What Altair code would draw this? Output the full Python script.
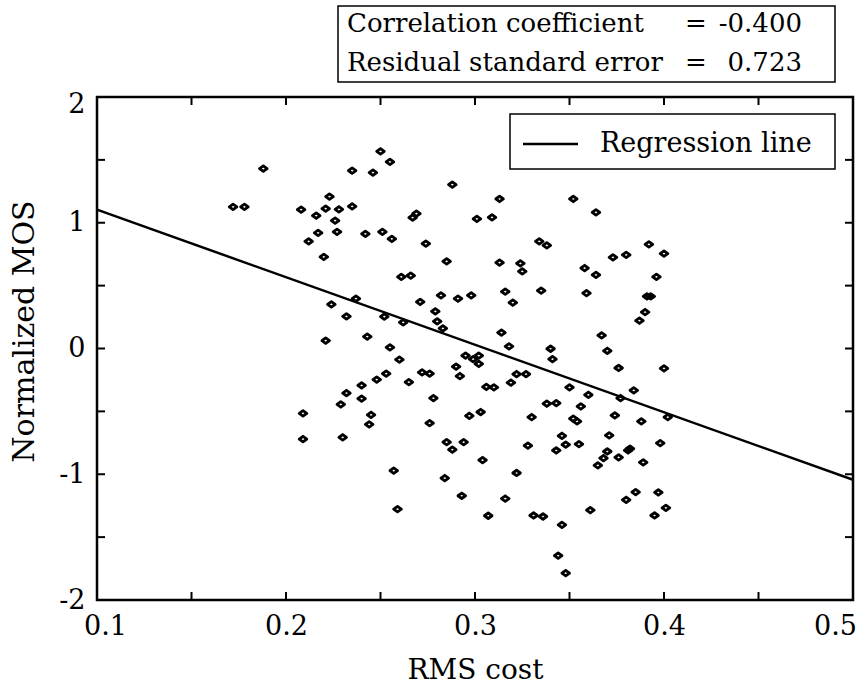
import altair as alt
import pandas as pd

FONT = "DejaVu Serif"

rms_cost = [
    0.188, 0.172, 0.178, 0.223, 0.208, 0.221, 0.228, 0.235, 0.216, 0.226, 0.217, 0.227, 0.212, 0.220, 0.224, 0.232, 0.221,
    0.250, 0.255, 0.235, 0.246, 0.288, 0.313, 0.352, 0.269, 0.267, 0.301, 0.309, 0.242, 0.251, 0.256, 0.274, 0.334, 0.338,
    0.285, 0.313, 0.324, 0.325, 0.358, 0.261, 0.266, 0.282, 0.291, 0.298, 0.316, 0.335, 0.359, 0.271, 0.320, 0.237, 0.279,
    0.252, 0.262, 0.280, 0.283, 0.243, 0.314,
    0.364, 0.392, 0.400, 0.373, 0.380, 0.364, 0.396, 0.391, 0.393, 0.390, 0.387, 0.367,
    0.232, 0.229, 0.209, 0.209, 0.230,
    0.255, 0.260, 0.272, 0.276, 0.265, 0.253, 0.248, 0.240, 0.240, 0.245, 0.244, 0.318, 0.295, 0.302, 0.299, 0.302, 0.290,
    0.292, 0.278, 0.276, 0.297, 0.303, 0.306, 0.310, 0.319, 0.322, 0.327, 0.340, 0.341, 0.350, 0.360, 0.338, 0.343, 0.356,
    0.330, 0.352, 0.354, 0.346, 0.348, 0.355, 0.343, 0.328, 0.285, 0.294, 0.288, 0.304, 0.322, 0.257, 0.284, 0.293, 0.316,
    0.259, 0.307, 0.331, 0.336, 0.361, 0.346, 0.344, 0.348,
    0.370, 0.376, 0.400, 0.384, 0.377, 0.374, 0.388, 0.402, 0.371, 0.398, 0.370, 0.382, 0.381, 0.376, 0.368, 0.365, 0.389,
    0.385, 0.397, 0.380, 0.401, 0.395,
]

normalized_mos = [
    1.430, 1.126, 1.126, 1.208, 1.104, 1.112, 1.107, 1.130, 1.056, 1.017, 0.919, 0.927, 0.852, 0.728, 0.351, 0.255, 0.062,
    1.568, 1.484, 1.414, 1.399, 1.303, 1.189, 1.189, 1.072, 1.041, 1.030, 1.043, 0.911, 0.927, 0.871, 0.834, 0.852, 0.820,
    0.693, 0.683, 0.677, 0.613, 0.640, 0.569, 0.579, 0.422, 0.396, 0.422, 0.452, 0.460, 0.440, 0.370, 0.364, 0.396, 0.295,
    0.253, 0.208, 0.216, 0.160, 0.094, 0.126,
    1.083, 0.828, 0.754, 0.725, 0.744, 0.585, 0.569, 0.414, 0.414, 0.290, 0.221, 0.104,
    -0.354, -0.445, -0.516, -0.720, -0.706,
    0.009, -0.089, -0.190, -0.200, -0.267, -0.200, -0.248, -0.294, -0.399, -0.527, -0.604, 0.017, -0.057, -0.057, -0.084,
    -0.123, -0.145, -0.219, -0.394, -0.593, -0.535, -0.505, -0.306, -0.309, -0.272, -0.203, -0.203, -0.002, -0.084, -0.309,
    -0.368, -0.439, -0.434, -0.461, -0.545, -0.558, -0.580, -0.694, -0.765, -0.760, -0.811, -0.773, -0.744, -0.744, -0.805,
    -0.887, -0.990, -0.972, -1.030, -1.171, -1.193, -1.277, -1.330, -1.328, -1.336, -1.286, -1.402, -1.648, -1.786,
    -0.018, -0.155, -0.158, -0.333, -0.394, -0.532, -0.580, -0.545, -0.691, -0.752, -0.819, -0.797, -0.811, -0.866, -0.871,
    -0.930, -0.906, -1.142, -1.145, -1.203, -1.267, -1.328,
]

reg_x = [0.1, 0.5]
reg_y = [1.104, -1.044]

x_tick_values = [0.1, 0.15, 0.2, 0.25, 0.3, 0.35, 0.4, 0.45, 0.5]
y_tick_values = [-2, -1.5, -1, -0.5, 0, 0.5, 1, 1.5, 2]
x_label_values = [0.1, 0.2, 0.3, 0.4, 0.5]
y_label_values = [-2, -1, 0, 1, 2]

stats_labels = ["Correlation coefficient", "Residual standard error"]
stats_values = ["-0.400", "0.723"]
legend_label = "Regression line"

W, H = 756, 503

pts = pd.DataFrame({"rms": rms_cost, "mos": normalized_mos})
reg = pd.DataFrame({"rms": reg_x, "mos": reg_y})
xt = pd.DataFrame({"v": x_tick_values})
yt = pd.DataFrame({"v": y_tick_values})

xscale = alt.Scale(domain=[0.1, 0.5], nice=False, zero=False)
yscale = alt.Scale(domain=[-2, 2], nice=False, zero=False)

label_expr = "datum.value < 0 ? '-' + abs(datum.value) : '' + datum.value"

xaxis = alt.Axis(
    values=x_label_values, grid=False, ticks=False, tickSize=0, domain=False,
    labelFont=FONT, labelFontSize=27, labelColor="black", labelPadding=13,
    labelFlush=False, labelOverlap=False, labelExpr=label_expr,
    labelOffset={"condition": [{"test": "datum.value >= 0.49", "value": -18},
                               {"test": "datum.value <= 0.11", "value": 8}], "value": 0},
    title="RMS cost", titleFont=FONT, titleFontSize=28, titleFontWeight="normal",
    titleColor="black", titleBaseline="alphabetic", titleY=78, titleX=W / 2,
)
yaxis = alt.Axis(
    values=y_label_values, grid=False, ticks=False, tickSize=0, domain=False,
    labelFont=FONT, labelFontSize=27, labelColor="black", labelPadding=12,
    labelOverlap=False, labelExpr=label_expr,
    labelOffset={"condition": {"test": "datum.value >= 1.9", "value": 7}, "value": 0},
    title="Normalized MOS", titleFont=FONT, titleFontSize=30, titleFontWeight="normal",
    titleColor="black", titleAngle=-90, titleBaseline="alphabetic", titleAlign="center",
    titleX=-64, titleY=234,
)

diamond = "M-1,0L0,-0.72L1,0L0,0.72Z"

points = alt.Chart(pts).mark_point(
    shape=diamond, filled=False, size=58, strokeWidth=2.8, strokeJoin="round",
    color="black", opacity=1
).encode(
    x=alt.X("rms:Q", scale=xscale, axis=xaxis),
    y=alt.Y("mos:Q", scale=yscale, axis=yaxis),
)

line = alt.Chart(reg).mark_line(color="black", strokeWidth=2.5).encode(
    x=alt.X("rms:Q", scale=xscale),
    y=alt.Y("mos:Q", scale=yscale),
)

tick_len = 8
xt_bottom = alt.Chart(xt).mark_rule(color="black", strokeWidth=2).encode(
    x=alt.X("v:Q", scale=xscale), y=alt.value(H - tick_len), y2=alt.value(H)
)
xt_top = alt.Chart(xt).mark_rule(color="black", strokeWidth=2).encode(
    x=alt.X("v:Q", scale=xscale), y=alt.value(0), y2=alt.value(tick_len)
)
yt_left = alt.Chart(yt).mark_rule(color="black", strokeWidth=2).encode(
    y=alt.Y("v:Q", scale=yscale), x=alt.value(0), x2=alt.value(tick_len)
)
yt_right = alt.Chart(yt).mark_rule(color="black", strokeWidth=2).encode(
    y=alt.Y("v:Q", scale=yscale), x=alt.value(W - tick_len), x2=alt.value(W)
)

one = alt.Data(values=[{"k": 0}])

# legend
leg_box = alt.Chart(one).mark_rect(fill="white", stroke="black", strokeWidth=1.5).encode(
    x=alt.value(413), x2=alt.value(738), y=alt.value(17), y2=alt.value(72)
)
leg_line = alt.Chart(one).mark_rule(color="black", strokeWidth=2.5).encode(
    x=alt.value(426), x2=alt.value(481), y=alt.value(47)
)
leg_text = alt.Chart(one).mark_text(
    font=FONT, fontSize=27, align="left", baseline="alphabetic", color="black"
).encode(x=alt.value(503), y=alt.value(55), text=alt.value(legend_label))

# statistics box
st_box = alt.Chart(one).mark_rect(fill="white", stroke="black", strokeWidth=1.5).encode(
    x=alt.value(241), x2=alt.value(738), y=alt.value(-91), y2=alt.value(-15)
)
st_layers = [st_box]
for i, (lab, val) in enumerate(zip(stats_labels, stats_values)):
    yb = -65 + i * 39
    st_layers.append(alt.Chart(one).mark_text(
        font=FONT, fontSize=26, align="left", baseline="alphabetic", color="black"
    ).encode(x=alt.value(250), y=alt.value(yb), text=alt.value(lab)))
    st_layers.append(alt.Chart(one).mark_text(
        font=FONT, fontSize=26, align="left", baseline="alphabetic", color="black"
    ).encode(x=alt.value(588), y=alt.value(yb), text=alt.value("=")))
    st_layers.append(alt.Chart(one).mark_text(
        font=FONT, fontSize=26, align="right", baseline="alphabetic", color="black"
    ).encode(x=alt.value(705), y=alt.value(yb), text=alt.value(val)))

chart = alt.layer(
    line, points, xt_bottom, xt_top, yt_left, yt_right, leg_box, leg_line, leg_text, *st_layers
).properties(
    width=W, height=H,
    autosize=alt.AutoSizeParams(type="none"),
    padding={"left": 97, "top": 97, "right": 11, "bottom": 84},
    background="white",
).configure_view(stroke="black", strokeWidth=2.5)

chart.save("out.html", embed_options={"renderer": "svg", "actions": False})
